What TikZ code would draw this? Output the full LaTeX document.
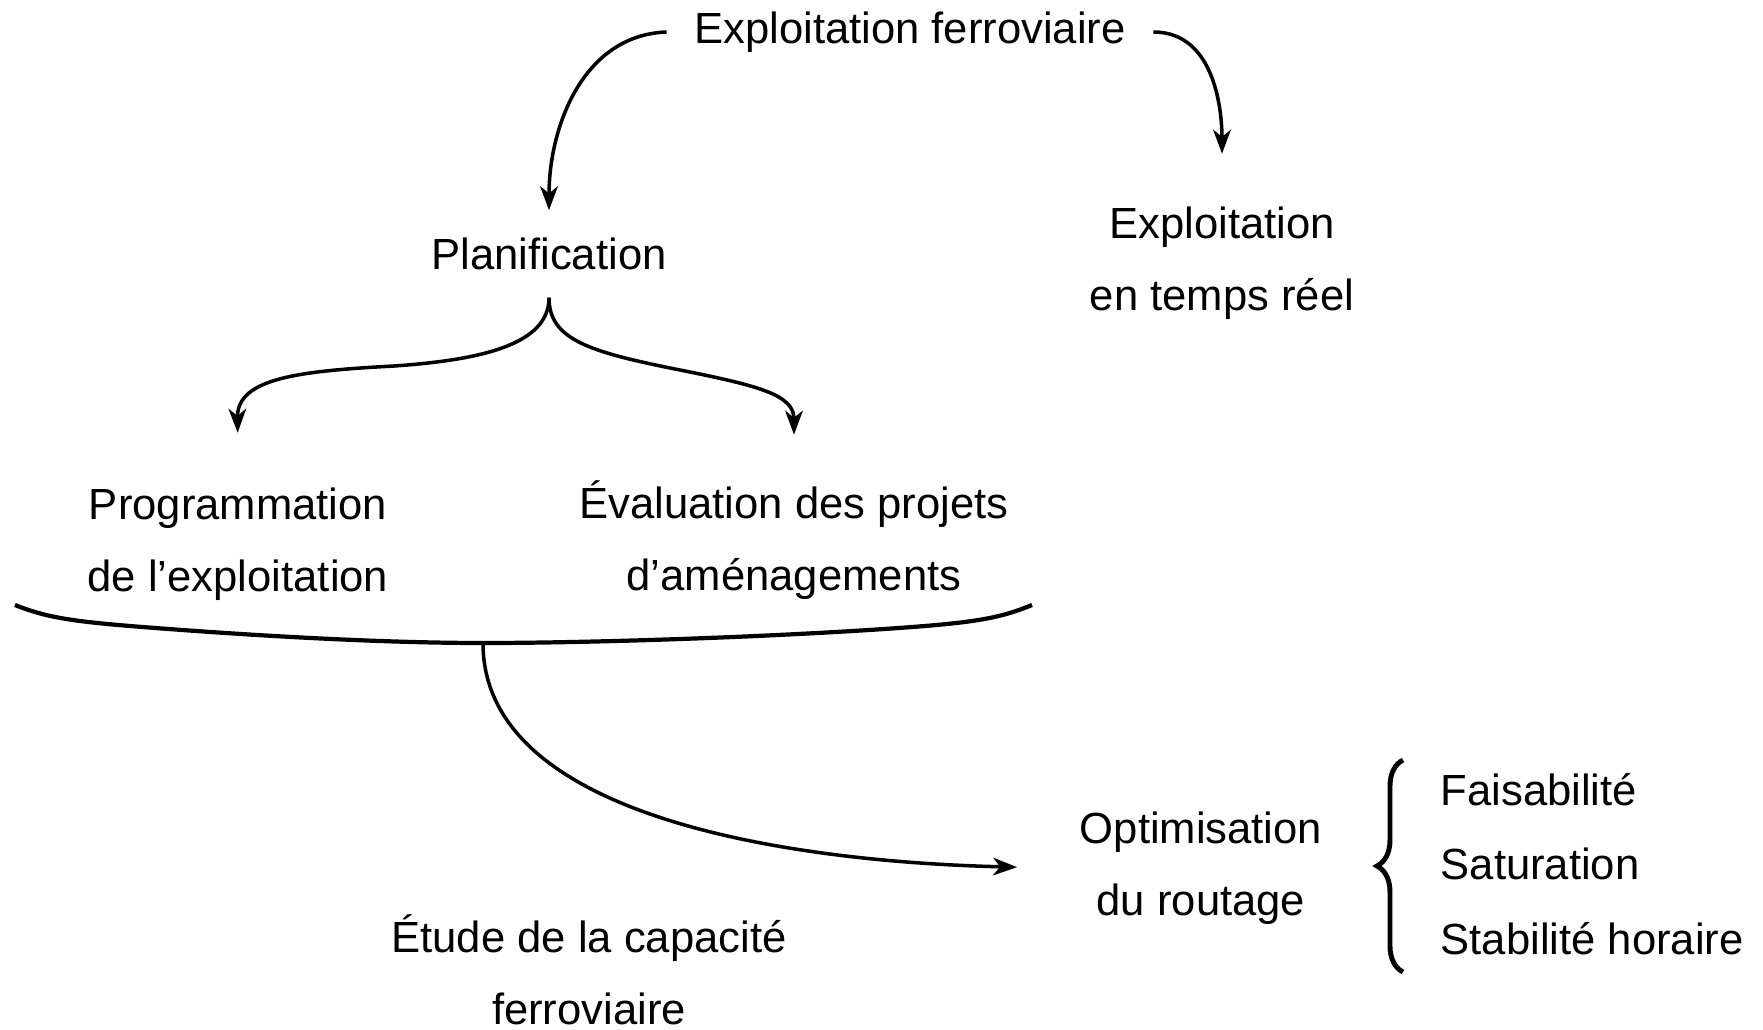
\documentclass[tikz,border=0pt]{standalone}
\usepackage{fontspec}
\setmainfont{Liberation Sans}
\usetikzlibrary{arrows.meta,decorations.pathreplacing}

\begin{document}
\begin{tikzpicture}[x=0.01cm,y=0.01cm,
  font=\fontsize{12.4}{20.6}\selectfont,
  lbl/.style={align=center,inner sep=0.27cm},
  crit/.style={anchor=west,inner sep=0pt},
  link/.style={-{Stealth[length=6.8pt,width=5pt,inset=2pt]},line width=1pt}]
  \useasboundingbox (0,-1030) rectangle (1763,0);

  \node[lbl] (expl) at (910,-32) {Exploitation ferroviaire};
  \node[lbl] (plan) at (549,-254) {Planification};
  \node[lbl] (reel) at (1222,-263) {Exploitation\\en temps réel};
  \node[lbl] (prog) at (238,-544) {Programmation\\de l’exploitation};
  \node[lbl] (eval) at (794,-540) {Évaluation des projets\\d’aménagements};
  \node[lbl] (opt) at (1201,-868) {Optimisation\\du routage};
  \node[lbl] (etude) at (589,-970) {Étude de la capacité\\ferroviaire};
  \node[crit] (fais) at (1440,-790) {Faisabilité};
  \node[crit] (sat) at (1440,-864) {Saturation};
  \node[crit] (stab) at (1440,-939) {Stabilité horaire};

  \draw[link] (expl.west) to[out=182,in=90] (plan.north);
  \draw[link,shorten >=0.25cm] (expl.east) to[out=0,in=90] (reel.north);

  \draw[link,shorten >=0.27cm] (plan.south) .. controls (549,-345) and (480,-360) .. (394,-366)
    .. controls (300,-371) and (237,-378) .. (prog.north);
  \draw[link,shorten >=0.18cm] (plan.south) .. controls (549,-340) and (590,-352) .. (680,-370)
    .. controls (760,-386) and (794,-395) .. (eval.north);

  \coordinate (fork) at (483,-643);
  \draw[line width=1.2pt] (15,-605) .. controls (45,-617) and (70,-621) .. (130,-626)
    .. controls (280,-638) and (400,-643) .. (fork)
    .. controls (600,-643) and (800,-636) .. (925,-626)
    .. controls (985,-621) and (1005,-616) .. (1032,-605);
  \draw[link,shorten >=0.35cm] (fork) .. controls +(0,-177) and +(-253,6) .. (opt.west);

  \draw[line width=1.4pt,decorate,decoration={brace,amplitude=0.26cm}] (1403,-972) -- (1403,-760);
\end{tikzpicture}
\end{document}
